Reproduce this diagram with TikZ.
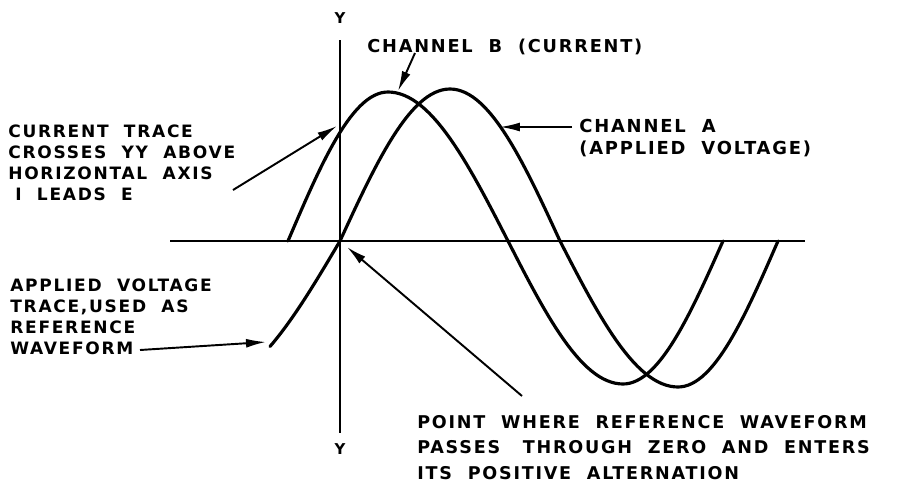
\documentclass[tikz,border=0pt]{standalone}
\usepackage{fontspec}
\newfontfamily\leroy{DejaVu Sans}[LetterSpace=10,WordSpace=2.0]
\usetikzlibrary{positioning,arrows.meta}
\tikzset{
axisline/.style={line width=1.1pt},
trace/.style={line width=1.8pt,line join=round,line cap=round},
callout/.style={-{Latex[length=4mm,width=1.8mm]},line width=1.1pt},
lbl/.style={font=\leroy\bfseries\fontsize{9.7}{12}\selectfont,align=left,inner sep=0pt},
lblwide/.style={lbl,font=\leroy\bfseries\fontsize{10}{14.5}\selectfont},
axlbl/.style={font=\leroy\bfseries\fontsize{8.5}{10}\selectfont,inner sep=0pt}
}
\begin{document}
\begin{tikzpicture}[x=0.02cm,y=-0.02cm]
\useasboundingbox (0,0) rectangle (917,487);
% axes
\coordinate (hl) at (170,241);
\coordinate (hr) at (805,241);
\coordinate (yt) at (340,40);
\coordinate (yb) at (340,433);
\draw[axisline] (hl) -- (hr);
\draw[axisline] (yt) -- (yb);
\node[axlbl,above=0.32cm of yt] (ytop) {Y};
\node[axlbl,below=0.2cm of yb] (ybot) {Y};
% channel B (current), one quarter at a time
\draw[trace,samples=30]
  plot[domain=288:388] (\x,{241-149*sin(90*(\x-288)/100)})
  -- plot[domain=388:508] (\x,{241-149*cos(90*(\x-388)/120)})
  -- plot[domain=508:623] (\x,{241+143*sin(90*(\x-508)/115)})
  -- plot[domain=623:723] (\x,{241+143*cos(90*(\x-623)/100)});
% channel A (voltage)
\draw[trace,samples=30]
  plot[domain=270:340] (\x,{241+145*sin(90*(340-\x)/135)})
  -- plot[domain=340:450] (\x,{241-152*sin(90*(\x-340)/110)})
  -- plot[domain=450:560] (\x,{241-152*cos(90*(\x-450)/110)})
  -- plot[domain=560:678] (\x,{241+146*sin(90*(\x-560)/118)})
  -- plot[domain=678:778] (\x,{241+146*cos(90*(\x-678)/100)});
% labels
\node[lbl,font=\leroy\bfseries\fontsize{10.1}{12}\selectfont,anchor=west] (chB) at (367,47) {CHANNEL B (CURRENT)};
\node[lbl,font=\leroy\bfseries\fontsize{10.2}{12.4}\selectfont,anchor=north west] (chA) at (579,119) {CHANNEL A\\(APPLIED VOLTAGE)};
\node[lbl,anchor=north west] (cur) at (8,124) {CURRENT TRACE\\CROSSES YY ABOVE\\HORIZONTAL AXIS\\\hspace{4pt}I LEADS E};
\node[lbl,anchor=north west] (appl) at (10,278) {APPLIED VOLTAGE\\TRACE,USED AS\\REFERENCE\\WAVEFORM};
\node[lblwide,anchor=north west] (pt) at (417,415) {POINT WHERE REFERENCE WAVEFORM\\PASSES\hspace{4pt} THROUGH ZERO AND ENTERS\\ITS POSITIVE ALTERNATION};
% callouts
\coordinate (chBtail) at (415,53);
\coordinate (chBtip) at (398,91);
\coordinate (chAtail) at (572,127);
\coordinate (chAtip) at (500,127);
\coordinate (curtail) at (233,190);
\coordinate (curtip) at (337,126);
\coordinate (appltail) at (140,350);
\coordinate (appltip) at (266,342);
\coordinate (pttail) at (522,396);
\coordinate (pttip) at (347,247);
\draw[callout] (chBtail) -- (chBtip);
\draw[callout] (chAtail) -- (chAtip);
\draw[callout] (curtail) -- (curtip);
\draw[callout] (appltail) -- (appltip);
\draw[callout] (pttail) -- (pttip);
\end{tikzpicture}
\end{document}
